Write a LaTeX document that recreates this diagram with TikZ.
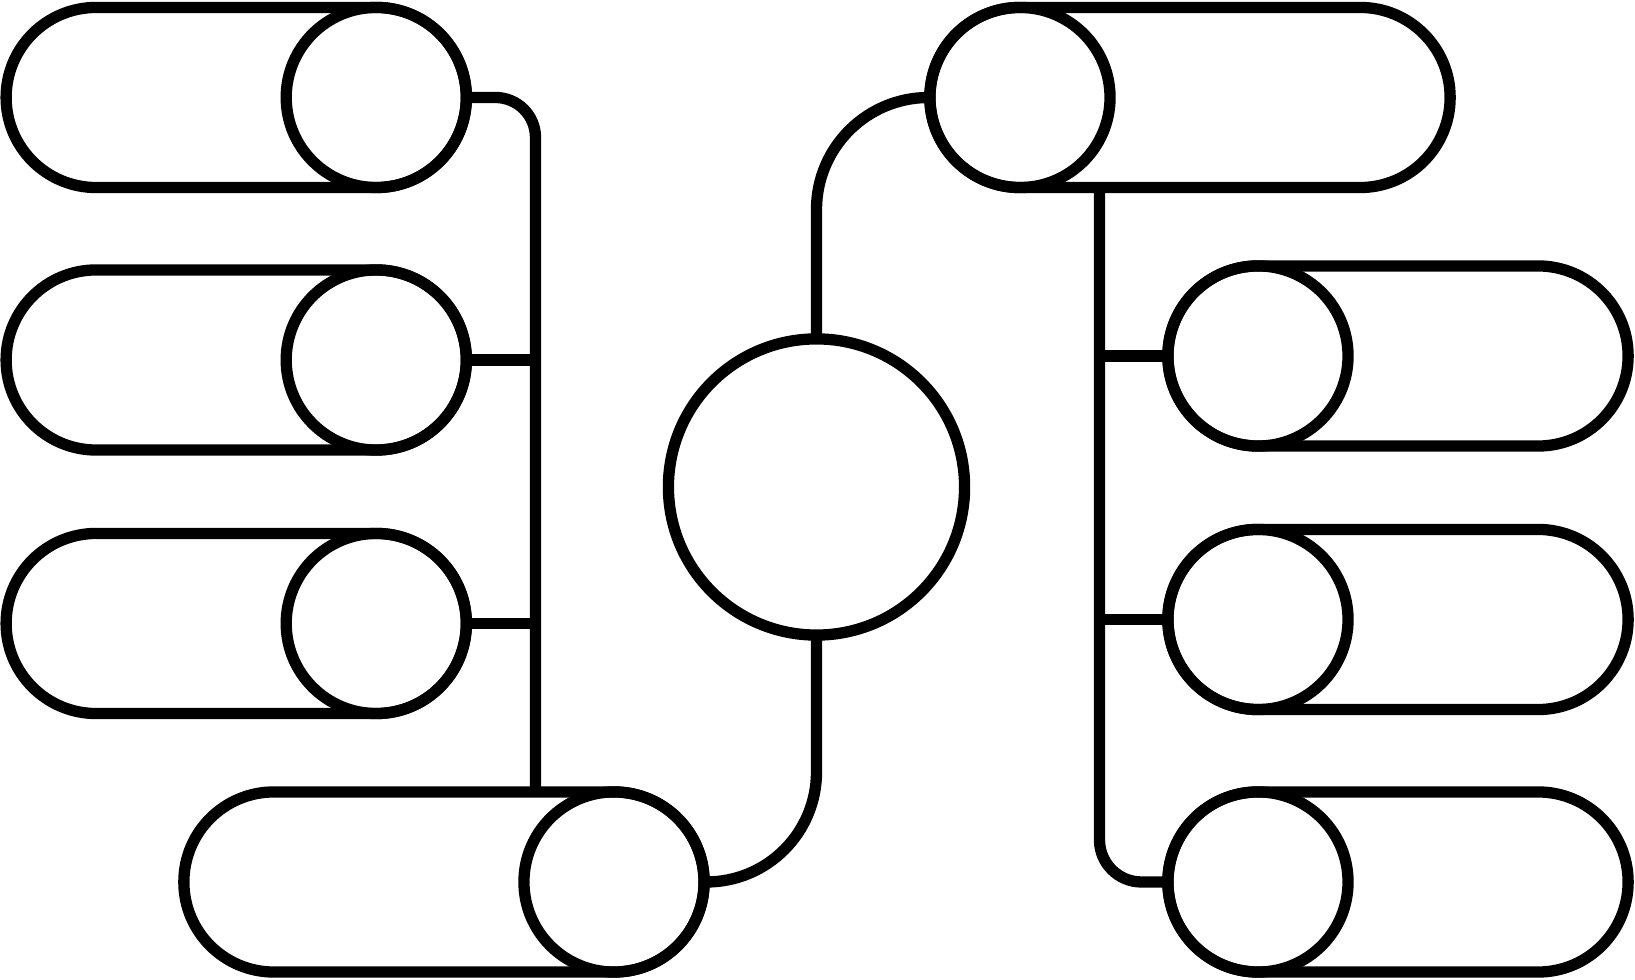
\documentclass[tikz,border=0pt]{standalone}
\usepackage{tikz}
\usetikzlibrary{shapes.misc}

\begin{document}
\begin{tikzpicture}[x=0.01cm, y=-0.01cm, line width=0.113cm,
    pill/.style={draw, rounded rectangle, minimum height=1.8cm, inner sep=0pt, outer sep=0pt},
    knob/.style={draw, circle, minimum size=1.8cm, inner sep=0pt, outer sep=0pt}]
          \useasboundingbox (0,0) rectangle (1635,980);
          \node [pill, minimum width=4.6cm] (P1) at (236.25,97.5) {};
          \node [pill, minimum width=4.6cm] (P2) at (236.25,360) {};
          \node [pill, minimum width=4.6cm] (P3) at (236.25,623.5) {};
          \node [pill, minimum width=5.2cm] (P4) at (444,882) {};
          \node [knob] (C1) at (376.25,97.5) {};
          \node [knob] (C2) at (376.25,360) {};
          \node [knob] (C3) at (376.25,623.5) {};
          \node [knob] (C4) at (614,882) {};
          \node [knob, minimum size=2.96cm] (M) at (816.5,487) {};
          \node [pill, minimum width=5.2cm] (PT) at (1190,97.5) {};
          \node [pill, minimum width=4.6cm] (R2) at (1398,356) {};
          \node [pill, minimum width=4.6cm] (R3) at (1398,619.5) {};
          \node [pill, minimum width=4.6cm] (R4) at (1398,882) {};
          \node [knob] (CT) at (1020,97.5) {};
          \node [knob] (C5) at (1258,356) {};
          \node [knob] (C6) at (1258,619.5) {};
          \node [knob] (C7) at (1258,882) {};
          \coordinate (lb) at (535.5,792);
          \coordinate (rb) at (1099.5,187.5);
          \draw [rounded corners=0.4cm] (C1.east) -| (lb);
          \draw (lb |- C2.east) -- (C2.east);
          \draw (lb |- C3.east) -- (C3.east);
          \draw [rounded corners=1.1cm] (C4.east) -| (M.south);
          \draw [rounded corners=1.12cm] (M.north) |- (CT.west);
          \draw [rounded corners=0.42cm] (rb) |- (C7.west);
          \draw (rb |- C5.west) -- (C5.west);
          \draw (rb |- C6.west) -- (C6.west);
        \end{tikzpicture}
\end{document}
